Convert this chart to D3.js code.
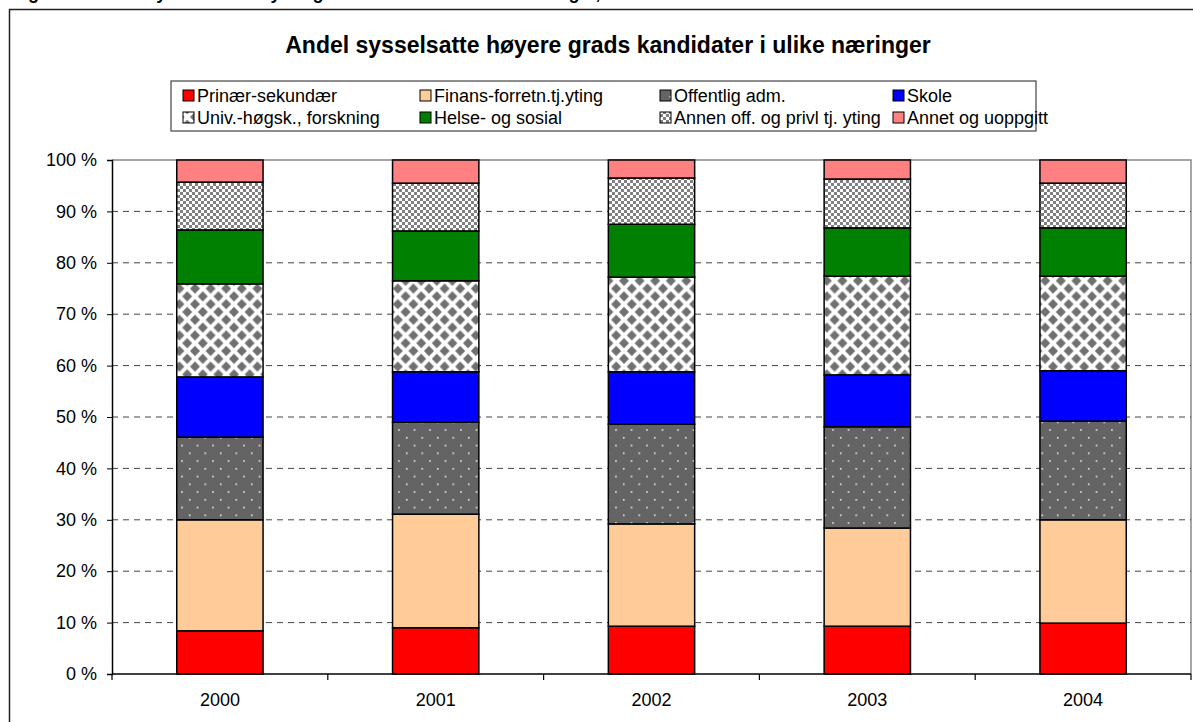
<!DOCTYPE html>
<html><head><meta charset="utf-8">
<script src="https://cdn.jsdelivr.net/npm/d3@7"></script>
<style>body{margin:0;background:#fff;}svg{display:block;font-family:Arial,"Liberation Sans",sans-serif;}</style>
</head><body><svg id="c" width="1193" height="722"></svg>
<script>
const years = ["2000","2001","2002","2003","2004"];
const seriesNames = ["Prinær-sekundær","Finans-forretn.tj.yting","Offentlig adm.","Skole","Univ.-høgsk., forskning","Helse- og sosial","Annen off. og privl tj. yting","Annet og uoppgitt"];
const prinaer   = [8.4, 9.0, 9.3, 9.3, 9.9];
const finans    = [21.6, 22.1, 19.9, 19.1, 20.1];
const offentlig = [16.1, 17.9, 19.4, 19.7, 19.2];
const skole     = [11.7, 9.8, 10.2, 10.1, 9.8];
const univ      = [18.1, 17.7, 18.4, 19.2, 18.4];
const helse     = [10.5, 9.7, 10.3, 9.4, 9.4];
const annen     = [9.3, 9.3, 9.0, 9.5, 8.7];
const annet     = [4.3, 4.5, 3.5, 3.7, 4.5];
const yTicks = [0,10,20,30,40,50,60,70,80,90,100];
const titleText = "Andel sysselsatte høyere grads kandidater i ulike næringer";

const seriesVals = [prinaer, finans, offentlig, skole, univ, helse, annen, annet];
const fills = ["#FF0000","#FFCC99","url(#pDots)","#0000FF","url(#pDiam)","#008000","url(#pCheck)","#FF8080"];

const svg = d3.select("#c");
const defs = svg.append("defs");
const p1 = defs.append("pattern").attr("id","pDots").attr("patternUnits","userSpaceOnUse").attr("width",15.5).attr("height",15.5);
p1.append("rect").attr("width",15.5).attr("height",15.5).attr("fill","#646464");
p1.append("rect").attr("x",3).attr("y",3).attr("width",1.5).attr("height",1.5).attr("fill","#fff");
p1.append("rect").attr("x",10.75).attr("y",10.75).attr("width",1.5).attr("height",1.5).attr("fill","#fff");
const p2 = defs.append("pattern").attr("id","pDiam").attr("patternUnits","userSpaceOnUse").attr("width",15.6).attr("height",15.6);
p2.append("rect").attr("width",15.6).attr("height",15.6).attr("fill","#fff");
const dm = (cx,cy,r)=>`M${cx},${cy-r}L${cx+r},${cy}L${cx},${cy+r}L${cx-r},${cy}Z`;
[[0,0],[15.6,0],[0,15.6],[15.6,15.6],[7.8,7.8]].forEach(([x,y])=>p2.append("path").attr("d",dm(x,y,5)).attr("fill","#707070"));
const p3 = defs.append("pattern").attr("id","pCheck").attr("patternUnits","userSpaceOnUse").attr("width",6).attr("height",6);
p3.append("rect").attr("width",6).attr("height",6).attr("fill","#fff");
p3.append("rect").attr("width",3).attr("height",3).attr("fill","#808080");
p3.append("rect").attr("x",3).attr("y",3).attr("width",3).attr("height",3).attr("fill","#808080");

// cut-off caption above the frame (only descenders visible, as in the reference)
svg.append("text").attr("x",12).attr("y",-1).attr("font-size",18).attr("font-weight","bold").attr("fill","#000")
  .text("Figur 5.3 Andel sysselsatte høyere grads kandidater i ulike næringer, 2000–2004");

svg.append("path").attr("d","M9.5,740V9.5H1200").attr("fill","none").attr("stroke","#222").attr("stroke-width",1.5);

const plot = {l:112, r:1191, t:160, b:674};
const x = d3.scaleBand().domain(years).range([plot.l, plot.r]).paddingInner(0.6).paddingOuter(0.3);
const xb = d3.scaleBand().domain(years).range([plot.l, plot.r]);
const y = d3.scaleLinear().domain([0,100]).range([plot.b, plot.t]);

svg.append("path").attr("d",`M${plot.l},${plot.t}H${plot.r}V${plot.b}`).attr("fill","none").attr("stroke","#888").attr("stroke-width",1.5);

svg.append("g").selectAll("line").data(yTicks.filter(d=>d>0&&d<100)).join("line")
  .attr("x1",plot.l).attr("x2",plot.r).attr("y1",d=>y(d)).attr("y2",d=>y(d))
  .attr("stroke","#444").attr("stroke-width",1).attr("stroke-dasharray","6,5");

const table = years.map((yr,i)=>{const o={year:yr}; seriesNames.forEach((s,j)=>o[s]=seriesVals[j][i]); return o;});
const stack = d3.stack().keys(seriesNames)(table);
stack.forEach((layer,j)=>{
  svg.append("g").selectAll("rect").data(layer).join("rect")
    .attr("x",d=>x(d.data.year)).attr("width",x.bandwidth())
    .attr("y",d=>y(d[1])).attr("height",d=>y(d[0])-y(d[1]))
    .attr("fill",fills[j]).attr("stroke","#000").attr("stroke-width",1.5);
});

const yAxis = d3.axisLeft(y).tickValues(yTicks).tickFormat(d=>d+" %").tickSize(5).tickPadding(10);
const gy = svg.append("g").attr("transform",`translate(${plot.l},0)`).call(yAxis);
gy.select(".domain").attr("stroke","#000").attr("stroke-width",1.5);
gy.selectAll(".tick line").attr("stroke","#000");
gy.selectAll("text").attr("font-size",18).attr("font-family","Arial,'Liberation Sans',sans-serif").attr("fill","#000");

svg.append("line").attr("x1",plot.l).attr("x2",plot.r).attr("y1",plot.b).attr("y2",plot.b).attr("stroke","#000").attr("stroke-width",1.5);
const bounds = years.map(d=>xb(d)).concat([plot.r]);
svg.append("g").selectAll("line").data(bounds).join("line")
  .attr("x1",d=>d).attr("x2",d=>d).attr("y1",plot.b).attr("y2",plot.b+6).attr("stroke","#000").attr("stroke-width",1.2);
svg.append("g").selectAll("text").data(years).join("text")
  .attr("x",d=>xb(d)+xb.bandwidth()/2).attr("y",706).attr("text-anchor","middle").attr("font-size",18).text(d=>d);

svg.append("text").attr("x",608).attr("y",53).attr("text-anchor","middle").attr("font-size",23).attr("font-weight","bold").text(titleText);

const lg = {x:171, y:81, w:865, h:50};
svg.append("rect").attr("x",lg.x).attr("y",lg.y).attr("width",lg.w).attr("height",lg.h).attr("fill","#fff").attr("stroke","#444").attr("stroke-width",1.2);
const colX = [183, 420, 660, 893];
const rowY = [96, 118];
seriesNames.forEach((s,j)=>{
  const cx = colX[j%4], cy = rowY[Math.floor(j/4)];
  svg.append("rect").attr("x",cx).attr("y",cy-6).attr("width",11).attr("height",11).attr("fill",fills[j]).attr("stroke","#000").attr("stroke-width",1);
  svg.append("text").attr("x",cx+14).attr("y",cy+6).attr("font-size",18).text(s);
});
</script></body></html>
